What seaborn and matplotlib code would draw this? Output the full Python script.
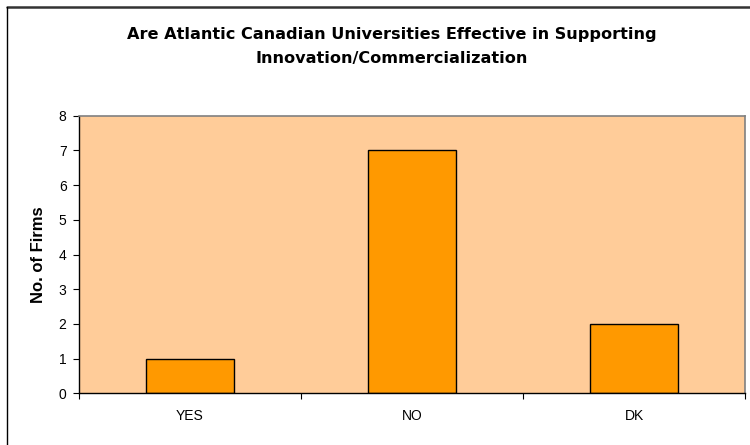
import matplotlib
matplotlib.use("Agg")
import matplotlib.pyplot as plt
from matplotlib.lines import Line2D
import seaborn as sns
import pandas as pd

answers = ["YES", "NO", "DK"]
firms = [1, 7, 2]
y_ticks = [0, 1, 2, 3, 4, 5, 6, 7, 8]

df = pd.DataFrame({"answer": answers, "firms": firms})

sns.set_theme(style="white")
plt.rcParams["font.family"] = ["Liberation Sans", "DejaVu Sans"]
plt.rcParams["text.color"] = "black"
plt.rcParams["axes.labelcolor"] = "black"

fig = plt.figure(figsize=(7.5, 4.45), dpi=100)
ax = fig.add_axes([79 / 750, 1 - 393.3 / 445, 666 / 750, 277.6 / 445])
ax.set_facecolor("#FFCC99")

sns.barplot(data=df, x="answer", y="firms", ax=ax, color="#FF9900",
            saturation=1, width=0.4, edgecolor="black", linewidth=1.0)

ax.set_xlim(-0.5, len(answers) - 0.5)
ax.set_ylim(0, 8)
ax.set_yticks(y_ticks)
ax.set_yticklabels([str(t) for t in y_ticks], fontsize=10, color="black")

# category labels centred, tick marks on category boundaries
ax.set_xticks(range(len(answers)))
ax.set_xticklabels(answers, fontsize=10, color="black")
ax.tick_params(axis="x", which="major", length=0, pad=11)
ax.set_xticks([i - 0.5 for i in range(len(answers) + 1)], minor=True)
ax.tick_params(axis="x", which="minor", length=4, width=0.8, color="black",
               direction="out", bottom=True)
ax.tick_params(axis="y", length=4, width=0.8, color="black", direction="out",
               left=True, pad=5)

ax.set_xlabel("")
ax.set_ylabel("No. of Firms", fontsize=12, fontweight="bold", labelpad=9,
              family=["Liberation Sans"])

for side in ["left", "bottom"]:
    ax.spines[side].set_color("black")
    ax.spines[side].set_linewidth(1.0)
for side in ["top", "right"]:
    ax.spines[side].set_color("#808080")
    ax.spines[side].set_linewidth(1.2)

title_font = dict(ha="center", va="center", fontsize=11.6, fontweight="bold",
                  family=["DejaVu Sans"], color="black")
fig.text(0.522, 1 - 35 / 445,
         "Are Atlantic Canadian Universities Effective in Supporting",
         **title_font)
fig.text(0.522, 1 - 59 / 445, "Innovation/Commercialization", **title_font)

# chart frame along the top and left edges
fig.add_artist(Line2D([7 / 750, 1.0], [1 - 7 / 445, 1 - 7 / 445],
                      transform=fig.transFigure, color="#333333", linewidth=1.8))
fig.add_artist(Line2D([7 / 750, 7 / 750], [0, 1 - 7 / 445],
                      transform=fig.transFigure, color="black", linewidth=1.0))

fig.savefig("out.png", dpi=100)
